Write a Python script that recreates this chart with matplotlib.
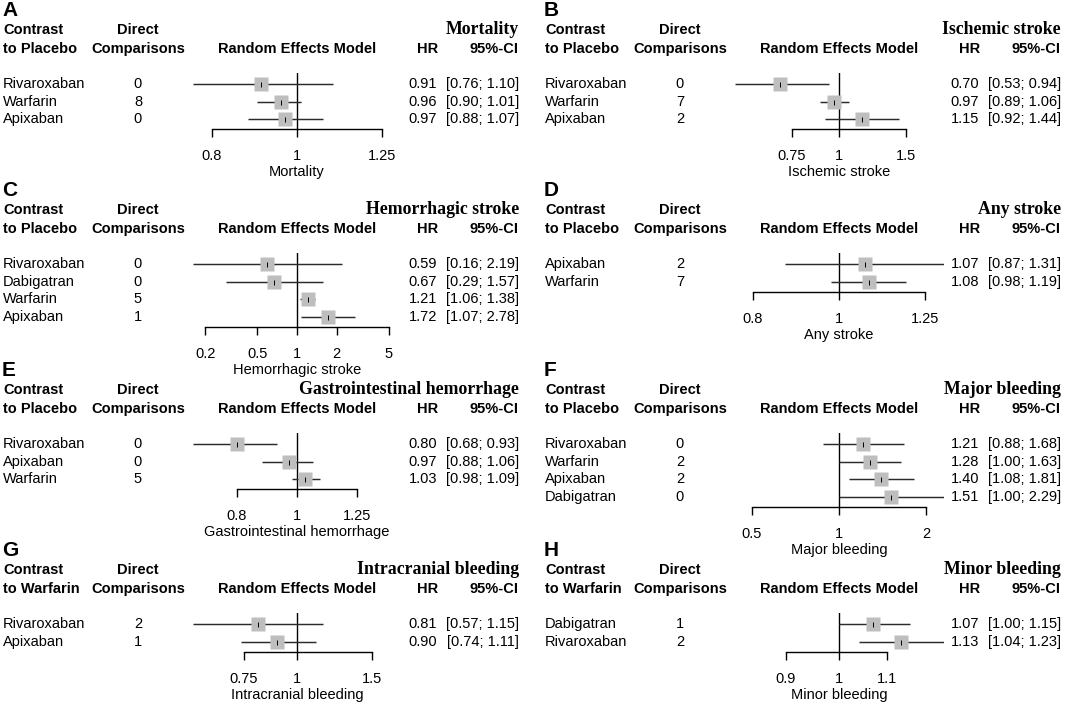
import matplotlib
matplotlib.use("Agg")
import matplotlib.pyplot as plt
from matplotlib.ticker import FixedLocator, FixedFormatter, NullLocator

# ------------------------------------------------------------
# Data
# ------------------------------------------------------------
a_treat = ["Rivaroxaban", "Warfarin", "Apixaban"]
a_direct = [0, 8, 0]
a_hr = [0.91, 0.96, 0.97]
a_lo = [0.76, 0.90, 0.88]
a_hi = [1.10, 1.01, 1.07]
a_ticks = [0.8, 1, 1.25]

b_treat = ["Rivaroxaban", "Warfarin", "Apixaban"]
b_direct = [0, 7, 2]
b_hr = [0.70, 0.97, 1.15]
b_lo = [0.53, 0.89, 0.92]
b_hi = [0.94, 1.06, 1.44]
b_ticks = [0.75, 1, 1.5]

c_treat = ["Rivaroxaban", "Dabigatran", "Warfarin", "Apixaban"]
c_direct = [0, 0, 5, 1]
c_hr = [0.59, 0.67, 1.21, 1.72]
c_lo = [0.16, 0.29, 1.06, 1.07]
c_hi = [2.19, 1.57, 1.38, 2.78]
c_ticks = [0.2, 0.5, 1, 2, 5]

d_treat = ["Apixaban", "Warfarin"]
d_direct = [2, 7]
d_hr = [1.07, 1.08]
d_lo = [0.87, 0.98]
d_hi = [1.31, 1.19]
d_ticks = [0.8, 1, 1.25]

e_treat = ["Rivaroxaban", "Apixaban", "Warfarin"]
e_direct = [0, 0, 5]
e_hr = [0.80, 0.97, 1.03]
e_lo = [0.68, 0.88, 0.98]
e_hi = [0.93, 1.06, 1.09]
e_ticks = [0.8, 1, 1.25]

f_treat = ["Rivaroxaban", "Warfarin", "Apixaban", "Dabigatran"]
f_direct = [0, 2, 2, 0]
f_hr = [1.21, 1.28, 1.40, 1.51]
f_lo = [0.88, 1.00, 1.08, 1.00]
f_hi = [1.68, 1.63, 1.81, 2.29]
f_ticks = [0.5, 1, 2]

g_treat = ["Rivaroxaban", "Apixaban"]
g_direct = [2, 1]
g_hr = [0.81, 0.90]
g_lo = [0.57, 0.74]
g_hi = [1.15, 1.11]
g_ticks = [0.75, 1, 1.5]

h_treat = ["Dabigatran", "Rivaroxaban"]
h_direct = [1, 2]
h_hr = [1.07, 1.13]
h_lo = [1.00, 1.04]
h_hi = [1.15, 1.23]
h_ticks = [0.9, 1, 1.1]

PANELS = [
    ("A", "Mortality", "Placebo", a_treat, a_direct, a_hr, a_lo, a_hi, a_ticks),
    ("B", "Ischemic stroke", "Placebo", b_treat, b_direct, b_hr, b_lo, b_hi, b_ticks),
    ("C", "Hemorrhagic stroke", "Placebo", c_treat, c_direct, c_hr, c_lo, c_hi, c_ticks),
    ("D", "Any stroke", "Placebo", d_treat, d_direct, d_hr, d_lo, d_hi, d_ticks),
    ("E", "Gastrointestinal hemorrhage", "Placebo", e_treat, e_direct, e_hr, e_lo, e_hi, e_ticks),
    ("F", "Major bleeding", "Placebo", f_treat, f_direct, f_hr, f_lo, f_hi, f_ticks),
    ("G", "Intracranial bleeding", "Warfarin", g_treat, g_direct, g_hr, g_lo, g_hi, g_ticks),
    ("H", "Minor bleeding", "Warfarin", h_treat, h_direct, h_hr, h_lo, h_hi, h_ticks),
]

# ------------------------------------------------------------
# Layout (pixels)
# ------------------------------------------------------------
W, H = 1065, 709
COL_X = [0, 542]
ROW_Y = [0, 180, 360, 540]
ROW_STEP = 17.7
HALF_COL = 104.5     # half width of the forest column
REF_X = 297          # position of the line of no effect in a panel

SANS = "Liberation Sans"
SERIF = "Liberation Serif"
FS = 10.5
FS_HEAD = 10.5

fig = plt.figure(figsize=(W / 100, H / 100), dpi=100)


def fx(x):
    return x / W


def fy(y):
    return 1 - y / H


def txt(x, y, s, ha="left", bold=False, size=FS, family=SANS):
    fig.text(fx(x), fy(y), s, ha=ha, va="center", fontsize=size,
             fontweight="bold" if bold else "normal", family=family)


def draw_panel(letter, title, ref, treat, direct, hr, lo, hi, ticks, x0, y0):
    # header block
    txt(x0 + 2, y0 + 10, letter, bold=True, size=15)
    txt(x0 + 3, y0 + 30, "Contrast", bold=True, size=FS_HEAD)
    txt(x0 + 3, y0 + 49, f"to {ref}", bold=True, size=FS_HEAD)
    txt(x0 + 138, y0 + 30, "Direct", ha="center", bold=True, size=FS_HEAD)
    txt(x0 + 138, y0 + 49, "Comparisons", ha="center", bold=True, size=FS_HEAD)
    txt(x0 + REF_X, y0 + 49, "Random Effects Model", ha="center", bold=True, size=FS_HEAD)
    txt(x0 + 428, y0 + 49, "HR", ha="center", bold=True, size=FS_HEAD)
    txt(x0 + 519, y0 + 49, "95%-CI", ha="right", bold=True, size=FS_HEAD)
    txt(x0 + 519, y0 + 30, title, ha="right", bold=True, size=12.8, family=SERIF)

    n = len(treat)
    for i in range(n):
        y = y0 + 84 + ROW_STEP * i
        txt(x0 + 3, y, treat[i])
        txt(x0 + 138, y, str(direct[i]), ha="center")
        txt(x0 + 437, y, f"{hr[i]:.2f}", ha="right")
        txt(x0 + 519, y, f"[{lo[i]:.2f}; {hi[i]:.2f}]", ha="right")

    # forest column, symmetric log limits around 1
    top = y0 + 84 - 11
    bottom = y0 + 84 + ROW_STEP * (n - 1) + 10
    left = x0 + REF_X - HALF_COL
    ax = fig.add_axes([fx(left), fy(bottom), 2 * HALF_COL / W, (bottom - top) / H])
    ax.set_xscale("log")
    m = max(max(hi), 1 / min(lo), max(ticks), 1 / min(ticks))
    ax.set_xlim(1 / m, m)
    ax.set_ylim(n - 1 + 10 / ROW_STEP, -11 / ROW_STEP)
    ax.patch.set_visible(False)

    rows = list(range(n))
    ax.axvline(1, color="black", lw=1.0)
    ax.hlines(rows, lo, hi, color="#2b2b2b", lw=1.05)
    ax.plot(hr, rows, "s", ms=9.4, color="#bebebe", mec="none")
    ax.plot(hr, rows, "|", ms=3.6, color="black", mew=0.7)

    for s in ["top", "right", "left"]:
        ax.spines[s].set_visible(False)
    ax.spines["bottom"].set_bounds(min(ticks), max(ticks))
    ax.spines["bottom"].set_linewidth(1.0)
    ax.set_yticks([])
    ax.xaxis.set_major_locator(FixedLocator(ticks))
    ax.xaxis.set_major_formatter(FixedFormatter([f"{t:g}" for t in ticks]))
    ax.xaxis.set_minor_locator(NullLocator())
    ax.tick_params(axis="x", direction="out", length=5.8, width=1.0, pad=8.5,
                   labelsize=FS)
    for lab in ax.get_xticklabels():
        lab.set_family(SANS)
    ax.set_xlabel(title, fontsize=FS, family=SANS, labelpad=1.5)


for k, p in enumerate(PANELS):
    draw_panel(*p, x0=COL_X[k % 2], y0=ROW_Y[k // 2])

fig.savefig("out.png", dpi=100, facecolor="white")
